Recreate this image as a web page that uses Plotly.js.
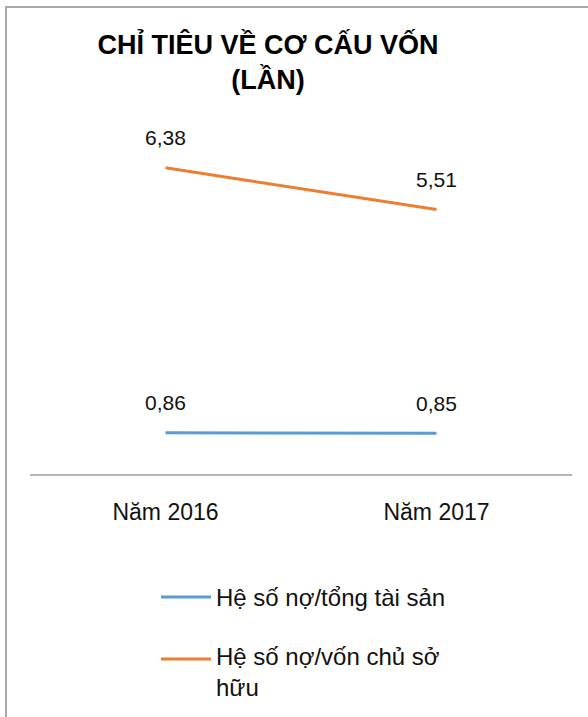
<!DOCTYPE html>
<html>
<head>
<meta charset="utf-8">
<script src="https://cdn.plot.ly/plotly-3.0.1.min.js"></script>
<style>
html,body{margin:0;padding:0;background:#fff;}
#wrap{position:relative;width:588px;height:717px;overflow:hidden;}
#frame{position:absolute;left:5px;top:6px;width:640px;height:760px;border-left:2px solid #a9a9a9;border-top:2px solid #a9a9a9;pointer-events:none;}
#chart{position:absolute;left:0;top:0;width:588px;height:717px;}
</style>
</head>
<body>
<div id="wrap"><div id="chart"></div><div id="frame"></div></div>
<script>
// Data
const categories = ["Năm 2016", "Năm 2017"];
const seriesNames = ["Hệ số nợ/tổng tài sản", "Hệ số nợ/vốn chủ sở hữu"];
const legendLabels = ["Hệ số nợ/tổng tài sản", "Hệ số nợ/vốn chủ sở<br>hữu"];
const debtToAssets = [0.86, 0.85];
const debtToEquity = [6.38, 5.51];
const debtToAssetsLabels = ["0,86", "0,85"];
const debtToEquityLabels = ["6,38", "5,51"];
const colors = ["#5B9BD5", "#ED7D31"];

// Layout geometry (pixels)
const W = 588, H = 717;
const L = 30, R = 16, T = 120, B = 243;
const plotW = W - L - R, plotH = H - T - B;
const fx = (p) => (p - L) / plotW;
const fy = (p) => (H - B - p) / plotH;

const fontFam = "'Liberation Sans', Arial, sans-serif";

const traces = [
  {x: categories, y: debtToAssets, name: seriesNames[0], type: "scatter", mode: "lines",
   line: {color: colors[0], width: 3}, showlegend: false, hoverinfo: "skip"},
  {x: categories, y: debtToEquity, name: seriesNames[1], type: "scatter", mode: "lines",
   line: {color: colors[1], width: 3}, showlegend: false, hoverinfo: "skip"}
];

const annotations = [];
[[debtToAssets, debtToAssetsLabels], [debtToEquity, debtToEquityLabels]].forEach(([vals, labs]) => {
  vals.forEach((v, i) => {
    annotations.push({x: categories[i], y: v, xref: "x", yref: "y", text: labs[i],
      showarrow: false, yshift: 30, xanchor: "center", yanchor: "middle",
      font: {family: fontFam, size: 21, color: "#111"}});
  });
});

// Custom legend
const legendRows = [
  {lineY: 597, textY: 597},
  {lineY: 659, textY: 672}
];
const shapes = [];
legendRows.forEach((r, i) => {
  shapes.push({type: "line", xref: "paper", yref: "paper",
    x0: fx(161), x1: fx(211), y0: fy(r.lineY), y1: fy(r.lineY),
    line: {color: colors[i], width: 3}});
  annotations.push({xref: "paper", yref: "paper", x: fx(214), y: fy(r.textY),
    text: legendLabels[i], showarrow: false, xanchor: "left", yanchor: "middle", align: "left",
    font: {family: fontFam, size: 24, color: "#111"}});
});

const layout = {
  width: W, height: H,
  margin: {l: L, r: R, t: T, b: B, pad: 0},
  paper_bgcolor: "rgba(0,0,0,0)",
  plot_bgcolor: "rgba(0,0,0,0)",
  showlegend: false,
  title: {
    text: "<b>CHỈ TIÊU VỀ CƠ CẤU VỐN<br>(LẦN)</b>",
    xref: "container", yref: "container",
    x: 268 / W, xanchor: "center",
    y: 1 - 54 / H, yanchor: "top",
    font: {family: fontFam, size: 27, color: "#000"}
  },
  xaxis: {
    type: "category", range: [-0.5, 1.5], showgrid: false, zeroline: false,
    showline: true, linecolor: "#b4b4b4", linewidth: 1.5, ticks: "",
    ticklabelstandoff: 17,
    tickfont: {family: fontFam, size: 23, color: "#111"}, fixedrange: true
  },
  yaxis: {
    range: [0, plotH / 48], visible: false, showgrid: false, zeroline: false, fixedrange: true
  },
  shapes: shapes,
  annotations: annotations
};

Plotly.newPlot("chart", traces, layout, {displayModeBar: false, staticPlot: true});
</script>
</body>
</html>
